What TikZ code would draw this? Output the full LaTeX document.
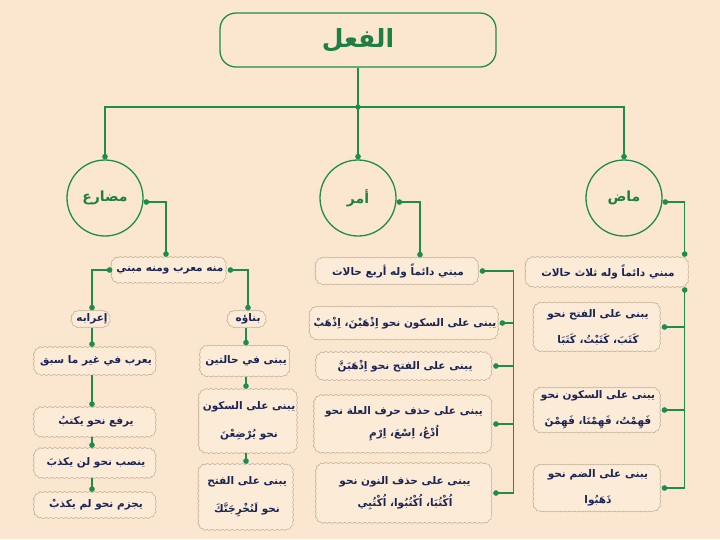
\documentclass[tikz,border=0pt]{standalone}
\usepackage{fontspec}
\newfontfamily\arabicfont[Script=Arabic]{DejaVu Sans}
\TeXXeTstate=1
\usetikzlibrary{arrows.meta,decorations.pathmorphing}
\definecolor{bgpeach}{HTML}{FBE7CF}
\definecolor{linegreen}{HTML}{1F8B4C}
\definecolor{titlegreen}{HTML}{1E7F45}
\definecolor{boxgray}{HTML}{B9A892}
\definecolor{boxfill}{HTML}{FCEBD7}
\definecolor{inknavy}{HTML}{1B2455}

\begin{document}
\begin{tikzpicture}
      [x=1pt,y=-1pt,%%%%%%%%%%%%%%%%%%%%%%%%%%%%%%
      link/.style={draw=linegreen, line width=1.4pt},
      dotend/.style={-{Circle[length=5.5pt]}},
      dotboth/.style={{Circle[length=5.5pt]}-{Circle[length=5.5pt]}},
      headbox/.style={rectangle, rounded corners=16pt, draw=linegreen, line width=1.3pt,
        fill=bgpeach, minimum width=276pt, minimum height=54pt, text=titlegreen,
        font=\arabicfont\bfseries\fontsize{25}{28}\selectfont},
      kind/.style={circle, draw=linegreen, line width=1.3pt, fill=bgpeach,
        minimum size=76pt, inner sep=0pt, text=titlegreen,
        font=\arabicfont\bfseries\fontsize{14}{16}\selectfont},
      rbox/.style={rectangle, rounded corners=8pt, fill=boxfill,
        postaction={draw=boxgray, line width=0.5pt, sharp corners, decorate,
          decoration={snake, amplitude=0.5pt, segment length=5pt}},
        inner sep=3pt, align=center, text=inknavy,
        font=\arabicfont\bfseries\fontsize{10.5}{22}\selectfont},
      ]%%%%%%%%%%%%%%%%%%%%%%%%%%%%%%

      \fill[bgpeach] (0,0) rectangle (720,539);

      % top and the three kinds
      \node[headbox] (fiil) at (358,40) {\beginR الفعل\endR};
      \coordinate (jn) at (358,107);
      \node[kind] (mud) at (105,198) {\beginR مضارع\endR};
      \node[kind] (amr) at (358,198) {\beginR أمر\endR};
      \node[kind] (madi) at (624,198) {\beginR ماض\endR};

      \draw[link] (fiil.south) -- (jn);
      \fill[linegreen] (jn) circle (2.7);
      \draw[link,dotend] (jn) -| (mud.north);
      \draw[link,dotend] (jn) -- (amr.north);
      \draw[link,dotend] (jn) -| (madi.north);

      % mudari
      \node[rbox, minimum width=115pt, minimum height=26pt] (mixed) at (170,270) {\beginR منه معرب ومنه مبني\endR};
      \node[rbox, minimum width=39pt, minimum height=17pt] (irab) at (92,319) {\beginR إعرابه\endR};
      \node[rbox, minimum width=39pt, minimum height=17pt] (bina) at (248,319) {\beginR بناؤه\endR};
      \node[rbox, minimum width=122pt, minimum height=28pt] (ghayr) at (96,361) {\beginR يعرب في غير ما سبق\endR};
      \node[rbox, minimum width=122pt, minimum height=30pt] (raf) at (96,422) {\beginR يرفع نحو يكتبُ\endR};
      \node[rbox, minimum width=122pt, minimum height=30pt] (nasb) at (96,463) {\beginR ينصب نحو لن يكذبَ\endR};
      \node[rbox, minimum width=122pt, minimum height=26pt] (jazm) at (96,505) {\beginR يجزم نحو لم يكذبْ\endR};
      \node[rbox, minimum width=90pt, minimum height=31pt] (halat) at (246,361) {\beginR يبنى في حالتين\endR};
      \node[rbox, minimum width=98pt, minimum height=64pt] (bsukun) at (249,421) {\beginR يبنى على السكون\endR\\[6pt]\beginR نحو يُرْضِعْنَ\endR};
      \node[rbox, minimum width=95pt, minimum height=66pt] (bfath) at (247,497) {\beginR يبنى على الفتح\endR\\[6pt]\beginR نحو لَنُخْرِجَنَّكَ\endR};

      \draw[link,dotboth] ([yshift=-4pt]mud.east) -| ([xshift=-4pt]mixed.north);
      \draw[link,dotboth] (mixed.west) -| (irab.north);
      \draw[link,dotboth] (mixed.east) -| (bina.north);
      \draw[link,dotend] (irab.south) -- (irab.south |- ghayr.north);
      \draw[link,dotend] (irab.south |- ghayr.south) -- (irab.south |- raf.north);
      \draw[link,dotend] (irab.south |- raf.south) -- (irab.south |- nasb.north);
      \draw[link,dotend] (irab.south |- nasb.south) -- (irab.south |- jazm.north);
      \draw[link,dotend] (halat.north |- bina.south) -- (halat.north);
      \draw[link,dotend] (halat.south) -- (halat.south |- bsukun.north);
      \draw[link,dotend] (halat.south |- bsukun.south) -- (halat.south |- bfath.north);

      % amr
      \node[rbox, minimum width=163pt, minimum height=27pt] (amr0) at (398,271) {\beginR مبني دائماً وله أربع حالات\endR};
      \node[rbox, minimum width=176pt, minimum height=33pt] (amr1) at (405,323) {\beginR يبنى على السكون نحو اِذْهَبْنَ، اِذْهَبْ\endR};
      \node[rbox, minimum width=176pt, minimum height=28pt] (amr2) at (405,366) {\beginR يبنى على الفتح نحو اِذْهَبَنَّ\endR};
      \node[rbox, minimum width=178pt, minimum height=58pt] (amr3) at (404,424) {\beginR يبنى على حذف حرف العلة نحو\endR\\\beginR اُدْعُ، اِسْعَ، اِرْمِ\endR};
      \node[rbox, minimum width=176pt, minimum height=60pt] (amr4) at (405,493) {\beginR يبنى على حذف النون نحو\endR\\\beginR اُكْتُبَا، اُكْتُبُوا، اُكْتُبِي\endR};

      \draw[link,dotboth] ([yshift=-4pt]amr.east) -| ([xshift=22pt]amr0.north);
      \draw[link,dotboth] (amr0.east) -- ++(34,0) coordinate (amrbus) |- (amr4.east);
      \draw[link,dotend] (amrbus |- amr1.east) -- (amr1.east);
      \draw[link,dotend] (amrbus |- amr2.east) -- (amr2.east);
      \draw[link,dotend] (amrbus |- amr3.east) -- (amr3.east);

      % madi
      \node[rbox, minimum width=163pt, minimum height=30pt] (madi0) at (608,272) {\beginR مبني دائماً وله ثلاث حالات\endR};
      \node[rbox, minimum width=127pt, minimum height=49pt] (madi1) at (598,327) {\beginR يبنى على الفتح نحو\endR\\[4pt]\beginR كَتَبَ، كَتَبْتُ، كَتَبَا\endR};
      \node[rbox, minimum width=127pt, minimum height=45pt] (madi2) at (598,410) {\beginR يبنى على السكون نحو\endR\\[4pt]\beginR فَهِمْتُ، فَهِمْنَا، فَهِمْنَ\endR};
      \node[rbox, minimum width=127pt, minimum height=47pt] (madi3) at (598,488) {\beginR يبنى على الضم نحو\endR\\[4pt]\beginR ذَهَبُوا\endR};

      \draw[link,dotboth] ([yshift=-4pt]madi.east) -| ([xshift=-5pt]madi0.north east);
      \draw[link,dotboth] ([xshift=-5pt]madi0.south east) coordinate (madibus) |- (madi3.east);
      \draw[link,dotend] (madibus |- madi1.east) -- (madi1.east);
      \draw[link,dotend] (madibus |- madi2.east) -- (madi2.east);
    \end{tikzpicture}
\end{document}
